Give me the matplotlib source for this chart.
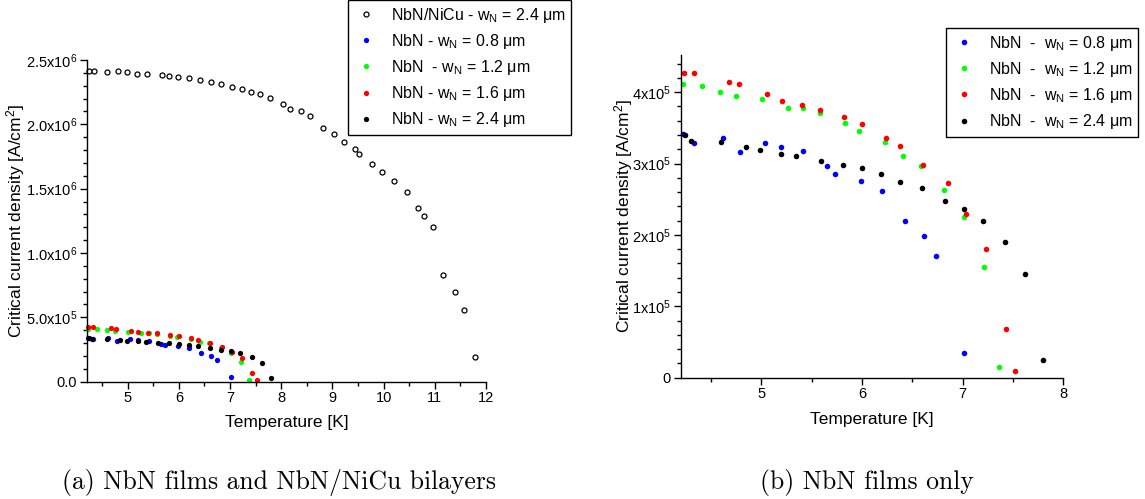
import matplotlib
matplotlib.use("Agg")
import matplotlib.pyplot as plt
from matplotlib.ticker import MultipleLocator, FixedLocator, FixedFormatter

plt.rcParams["font.family"] = ["Liberation Sans", "DejaVu Sans"]
plt.rcParams["mathtext.fontset"] = "custom"
plt.rcParams["mathtext.rm"] = "Liberation Sans"
plt.rcParams["mathtext.it"] = "Liberation Sans:italic"
plt.rcParams["mathtext.bf"] = "Liberation Sans:bold"

# ---- data: temperature [K] and critical current density [A/cm^2] ----
T_bilayer = [4.25, 4.34, 4.60, 4.81, 4.99, 5.18, 5.38, 5.67, 5.80, 5.98,
             6.20, 6.41, 6.62, 6.82, 7.03, 7.23, 7.40, 7.58, 7.77, 8.03,
             8.18, 8.39, 8.57, 8.81, 9.02, 9.23, 9.43, 9.52, 9.77, 9.96,
             10.21, 10.45, 10.67, 10.78, 10.97, 11.16, 11.40, 11.56, 11.78]
J_bilayer = [2.418e6, 2.418e6, 2.406e6, 2.418e6, 2.403e6, 2.390e6, 2.395e6, 2.387e6,
             2.379e6, 2.367e6, 2.359e6, 2.341e6, 2.328e6, 2.313e6, 2.289e6, 2.276e6,
             2.255e6, 2.235e6, 2.206e6, 2.157e6, 2.123e6, 2.100e6, 2.068e6, 1.970e6,
             1.926e6, 1.864e6, 1.809e6, 1.768e6, 1.690e6, 1.633e6, 1.561e6, 1.475e6,
             1.351e6, 1.291e6, 1.201e6, 0.827e6, 0.698e6, 0.558e6, 0.192e6]

T_08 = [4.22, 4.33, 4.62, 4.79, 5.04, 5.20, 5.41, 5.65, 5.73, 5.99,
        6.20, 6.43, 6.62, 6.74, 7.01]
J_08 = [3.417e5, 3.291e5, 3.361e5, 3.165e5, 3.283e5, 3.235e5, 3.175e5, 2.965e5,
        2.857e5, 2.755e5, 2.611e5, 2.199e5, 1.989e5, 1.704e5, 0.346e5]

T_12 = [4.22, 4.41, 4.59, 4.75, 5.01, 5.27, 5.41, 5.58, 5.83, 5.97,
        6.23, 6.41, 6.59, 6.82, 7.01, 7.21, 7.36]
J_12 = [4.109e5, 4.085e5, 4.006e5, 3.950e5, 3.899e5, 3.782e5, 3.782e5, 3.707e5,
        3.567e5, 3.455e5, 3.297e5, 3.105e5, 2.969e5, 2.624e5, 2.255e5, 1.555e5,
        0.150e5]

T_16 = [4.23, 4.33, 4.68, 4.78, 5.06, 5.21, 5.40, 5.58, 5.82, 6.00,
        6.24, 6.38, 6.61, 6.85, 7.03, 7.23, 7.43, 7.52]
J_16 = [4.263e5, 4.268e5, 4.137e5, 4.113e5, 3.973e5, 3.871e5, 3.819e5, 3.754e5,
        3.651e5, 3.549e5, 3.361e5, 3.249e5, 2.983e5, 2.722e5, 2.288e5, 1.807e5,
        0.682e5, 0.098e5]

T_24 = [4.24, 4.30, 4.60, 4.85, 4.99, 5.20, 5.35, 5.59, 5.81, 6.00,
        6.19, 6.38, 6.60, 6.83, 7.01, 7.20, 7.42, 7.62, 7.80]
J_24 = [3.403e5, 3.319e5, 3.297e5, 3.231e5, 3.193e5, 3.137e5, 3.105e5, 3.039e5,
        2.979e5, 2.937e5, 2.849e5, 2.741e5, 2.653e5, 2.475e5, 2.363e5, 2.195e5,
        1.896e5, 1.448e5, 0.252e5]

label_bilayer = r"NbN/NiCu - w$_\mathregular{N}$ = 2.4 μm"
labels_a = [r"NbN - w$_\mathregular{N}$ = 0.8 μm",
            r"NbN  - w$_\mathregular{N}$ = 1.2 μm",
            r"NbN - w$_\mathregular{N}$ = 1.6 μm",
            r"NbN - w$_\mathregular{N}$ = 2.4 μm"]
labels_b = [r"NbN  -  w$_\mathregular{N}$ = 0.8 μm",
            r"NbN  -  w$_\mathregular{N}$ = 1.2 μm",
            r"NbN  -  w$_\mathregular{N}$ = 1.6 μm",
            r"NbN  -  w$_\mathregular{N}$ = 2.4 μm"]
colors = ["#0000ff", "#00ff00", "#ff0000", "#000000"]

yticks_a = [0, 5e5, 1e6, 1.5e6, 2e6, 2.5e6]
yticklabels_a = ["0.0", r"5.0x10$^\mathregular{5}$", r"1.0x10$^\mathregular{6}$",
                 r"1.5x10$^\mathregular{6}$", r"2.0x10$^\mathregular{6}$",
                 r"2.5x10$^\mathregular{6}$"]
yticks_b = [0, 1e5, 2e5, 3e5, 4e5]
yticklabels_b = ["0", r"1x10$^\mathregular{5}$", r"2x10$^\mathregular{5}$",
                 r"3x10$^\mathregular{5}$", r"4x10$^\mathregular{5}$"]

nbn_T = [T_08, T_12, T_16, T_24]
nbn_J = [J_08, J_12, J_16, J_24]

W, H = 1145, 499
fig = plt.figure(figsize=(W / 100, H / 100), dpi=100)

LEG_FS = 11.5
LAB_FS = 12.5
TICK_FS = 10.5


def px_axes(x0, y0, x1, y1):
    return fig.add_axes([x0 / W, 1 - y1 / H, (x1 - x0) / W, (y1 - y0) / H])


def style(ax):
    for s in ("top", "right"):
        ax.spines[s].set_visible(False)
    for s in ("left", "bottom"):
        ax.spines[s].set_linewidth(1.0)
    ax.tick_params(which="major", direction="out", length=5, width=1.0,
                   labelsize=TICK_FS, pad=2)
    ax.tick_params(which="minor", direction="out", length=3, width=1.0)


def add_legend(ax, x_px, y_px):
    leg = ax.legend(loc="upper left", bbox_to_anchor=(x_px / W, 1 - y_px / H),
                    bbox_transform=fig.transFigure, fontsize=LEG_FS, frameon=True,
                    fancybox=False, framealpha=1, edgecolor="black",
                    borderpad=0.35, labelspacing=0.45, handlelength=1.6,
                    handletextpad=0.72, borderaxespad=0)
    leg.get_frame().set_linewidth(1.0)
    return leg


# ---- (a) ----
axa = px_axes(86.7, 60, 486.1, 381.7)
axa.plot(T_bilayer, J_bilayer, "o", ls="none", ms=3.6, mfc="white", mec="black",
         mew=0.9, label=label_bilayer, clip_on=False)
for t, j, c, lab in zip(nbn_T, nbn_J, colors, labels_a):
    axa.plot(t, j, "o", ls="none", ms=3.8, mfc=c, mec=c, mew=0, label=lab,
             clip_on=False)
axa.set_xlim(4.2, 12)
axa.set_ylim(0, 2.5e6)
axa.xaxis.set_major_locator(MultipleLocator(1))
axa.xaxis.set_minor_locator(MultipleLocator(0.5))
axa.yaxis.set_major_locator(FixedLocator(yticks_a))
axa.yaxis.set_major_formatter(FixedFormatter(yticklabels_a))
axa.yaxis.set_minor_locator(MultipleLocator(1e5))
style(axa)
axa.set_xlabel("Temperature [K]", fontsize=LAB_FS)
axa.set_ylabel(r"Critical current density [A/cm$^\mathregular{2}$]", fontsize=LAB_FS)
axa.xaxis.set_label_coords(0.5, -0.105)
axa.yaxis.set_label_coords(-0.1495, 0.5)
add_legend(axa, 348, 0)

# ---- (b) ----
axb = px_axes(680.7, 55, 1063.3, 377.7)
for t, j, c, lab in zip(nbn_T, nbn_J, colors, labels_b):
    axb.plot(t, j, "o", ls="none", ms=4.0, mfc=c, mec=c, mew=0, label=lab,
             clip_on=False)
axb.set_xlim(4.2, 8)
axb.set_ylim(0, 4.52e5)
axb.xaxis.set_major_locator(MultipleLocator(1))
axb.xaxis.set_minor_locator(MultipleLocator(0.5))
axb.yaxis.set_major_locator(FixedLocator(yticks_b))
axb.yaxis.set_major_formatter(FixedFormatter(yticklabels_b))
axb.yaxis.set_minor_locator(MultipleLocator(2e4))
style(axb)
axb.set_xlabel("Temperature [K]", fontsize=LAB_FS)
axb.set_ylabel(r"Critical current density [A/cm$^\mathregular{2}$]", fontsize=LAB_FS)
axb.xaxis.set_label_coords(0.5, -0.105)
axb.yaxis.set_label_coords(-0.1194, 0.5)
add_legend(axb, 946, 28)

# ---- sub-captions, centred under each panel ----
fig.text(279 / W, 1 - 482 / H, "(a) NbN films and NbN/NiCu bilayers",
         family="cmr10", fontsize=18.5, va="center", ha="center")
fig.text(867 / W, 1 - 482 / H, "(b) NbN films only",
         family="cmr10", fontsize=18.5, va="center", ha="center")

fig.savefig("out.png", dpi=100)
